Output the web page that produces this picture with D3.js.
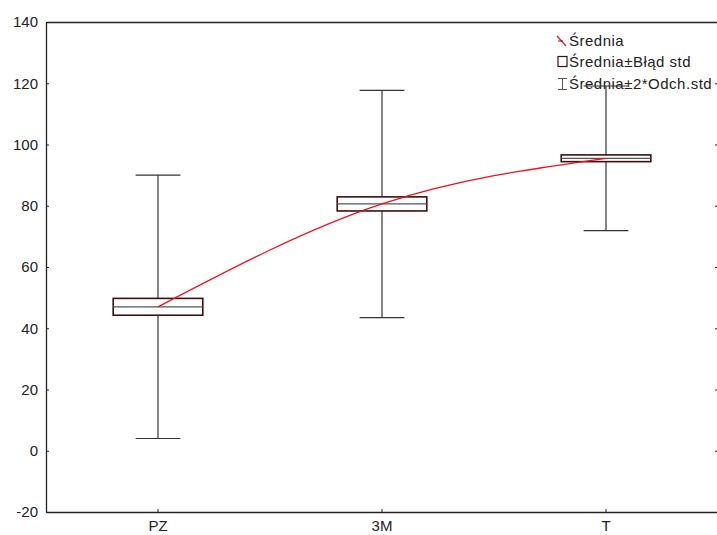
<!DOCTYPE html>
<html>
<head>
<meta charset="utf-8">
<script src="https://cdn.jsdelivr.net/npm/d3@7/dist/d3.min.js"></script>
<style>
  html, body { margin: 0; padding: 0; background: #fff; }
  svg { display: block; font-family: "Liberation Sans", Arial, sans-serif; }
</style>
</head>
<body>
<svg id="chart" width="717" height="535"></svg>
<script>
// Groups and per-group statistics
const categories = ["PZ", "3M", "T"];
const means = [47.0, 80.6, 95.5];
const stdErrors = [2.75, 2.3, 1.1];
const stdDevs = [21.5, 18.55, 11.8];
const yTicks = [-20, 0, 20, 40, 60, 80, 100, 120, 140];
const legendLabels = ["Średnia", "Średnia±Błąd std", "Średnia±2*Odch.std"];

const W = 717, H = 535;
const margin = { left: 46, top: 22, right: -1, bottom: 23 };
const svg = d3.select("#chart");

const x = d3.scaleBand().domain(categories)
  .range([margin.left, W - margin.right]).paddingInner(0).paddingOuter(0);
const y = d3.scaleLinear().domain([-20, 140]).range([H - margin.bottom, margin.top]);

const cx = c => x(c) + x.bandwidth() / 2;
const boxW = x.bandwidth() * 0.4;
const capW = x.bandwidth() * 0.2;

const rows = categories.map((c, i) => ({
  c, mean: means[i], se: stdErrors[i], sd: stdDevs[i]
}));

// Frame: axes on all four sides, ticks pointing inward
const axisColor = "#222";
function styleAxis(g) {
  g.selectAll("path").attr("stroke", axisColor).attr("stroke-width", 1.3);
  g.selectAll("line").attr("stroke", axisColor).attr("stroke-width", 1);
  g.selectAll("text").attr("fill", "#222").style("font-size", "15px");
}

svg.append("g")
  .attr("transform", `translate(${margin.left},0)`)
  .call(d3.axisLeft(y).tickValues(yTicks).tickSizeInner(-3).tickSizeOuter(0)
    .tickPadding(8).tickFormat(d => String(d)))
  .call(styleAxis);

svg.append("g")
  .attr("transform", `translate(${W - margin.right},0)`)
  .call(d3.axisRight(y).tickValues(yTicks).tickSizeInner(-3).tickSizeOuter(0).tickFormat(""))
  .call(styleAxis);

svg.append("g")
  .attr("transform", `translate(0,${H - margin.bottom})`)
  .call(d3.axisBottom(x).tickSizeInner(-3).tickSizeOuter(0).tickPadding(8))
  .call(styleAxis);

svg.append("g")
  .attr("transform", `translate(0,${margin.top})`)
  .call(d3.axisTop(x).tickSizeInner(0).tickSizeOuter(0).tickFormat(""))
  .call(styleAxis);

// Legend
const lg = svg.append("g").attr("transform", "translate(556,0)");
const ly = [41, 62, 84];
lg.append("line").attr("x1", 1).attr("y1", 36).attr("x2", 10).attr("y2", 46)
  .attr("stroke", "#e8141c").attr("stroke-width", 1.2);
lg.append("line").attr("x1", 2).attr("y1", 41).attr("x2", 7).attr("y2", 41)
  .attr("stroke", "#333").attr("stroke-width", 1);
lg.append("rect").attr("x", 2).attr("y", 56.5).attr("width", 9).attr("height", 10)
  .attr("fill", "#fff").attr("stroke", "#3b1010").attr("stroke-width", 1.2);
lg.append("path").attr("d", "M2,78.5H11M6.5,78.5V89.5M2,89.5H11")
  .attr("fill", "none").attr("stroke", "#555").attr("stroke-width", 1);
lg.selectAll("text.leg").data(legendLabels).join("text")
  .attr("class", "leg")
  .attr("x", 13).attr("y", (d, i) => ly[i]).attr("dy", "0.35em")
  .attr("fill", "#222").style("font-size", "15px").style("letter-spacing", "0.5px")
  .text(d => d);

// Whiskers: mean ± 2 SD
const wg = svg.append("g").attr("stroke", "#333").attr("stroke-width", 1.2);
rows.forEach(r => {
  const X = cx(r.c), hi = y(r.mean + 2 * r.sd), lo = y(r.mean - 2 * r.sd);
  wg.append("line").attr("x1", X).attr("x2", X).attr("y1", hi).attr("y2", lo);
  wg.append("line").attr("x1", X - capW / 2).attr("x2", X + capW / 2).attr("y1", hi).attr("y2", hi);
  wg.append("line").attr("x1", X - capW / 2).attr("x2", X + capW / 2).attr("y1", lo).attr("y2", lo);
});

// Boxes: mean ± standard error, with the mean marked
const bg = svg.append("g");
rows.forEach(r => {
  const X = cx(r.c), top = y(r.mean + r.se), bot = y(r.mean - r.se);
  bg.append("rect").attr("x", X - boxW / 2).attr("y", top)
    .attr("width", boxW).attr("height", bot - top)
    .attr("fill", "#fff").attr("stroke", "#3b1010").attr("stroke-width", 1.6);
  bg.append("line").attr("x1", X - boxW / 2).attr("x2", X + boxW / 2)
    .attr("y1", y(r.mean)).attr("y2", y(r.mean))
    .attr("stroke", "#555").attr("stroke-width", 1.2);
});

// Smooth curve through the means
const line = d3.line().x(d => cx(d.c)).y(d => y(d.mean)).curve(d3.curveNatural);
svg.append("path").datum(rows).attr("d", line)
  .attr("fill", "none").attr("stroke", "#e8141c").attr("stroke-width", 1.3);
</script>
</body>
</html>
